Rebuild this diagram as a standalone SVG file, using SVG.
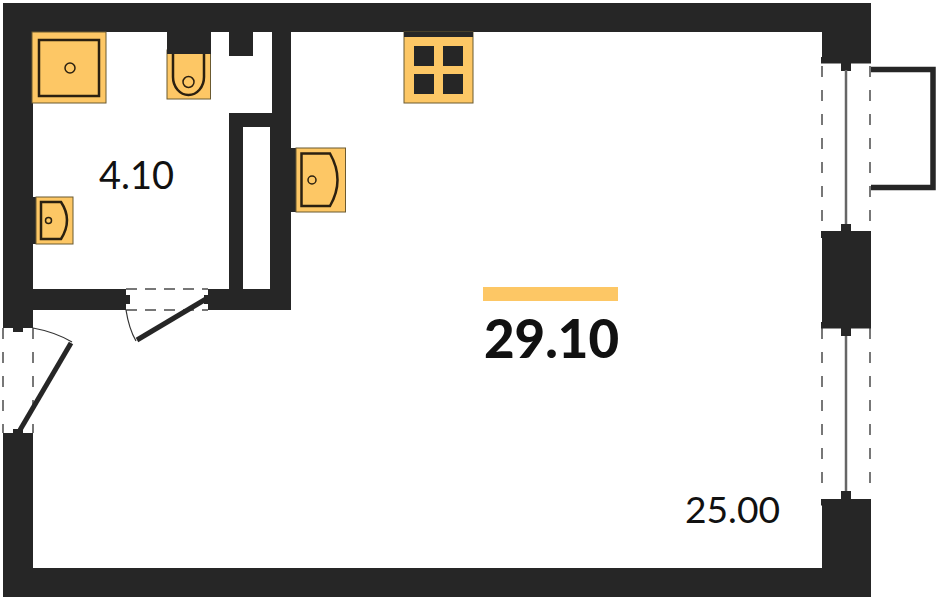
<svg xmlns="http://www.w3.org/2000/svg" width="939" height="600" viewBox="0 0 939 600">
<style>
.w{fill:#262626}
.f{fill:#fdc765;stroke:#6b5a30;stroke-width:1}
.l{fill:none;stroke:#2b2010}
.d{fill:none;stroke:#777;stroke-width:2;stroke-dasharray:11 13}
.g{fill:none;stroke:#666;stroke-width:2.500}
text{font-family:Lato,"Liberation Sans",sans-serif;fill:#111}
</style>
<rect width="939" height="600" fill="#fff"/>
<g id="walls">
<path class="w" d="M3 3H871V57H822V32H33V322H3ZM3 440H33V568H822V505H871V597H3ZM822 238H871V322H822Z"/>
<path class="w" fill-rule="evenodd" d="M272 32H291V310H215V289H229V113H272ZM243 127V289H270V127Z"/>
<rect class="w" x="229" y="32" width="24" height="24"/>
<rect class="w" x="33" y="289" width="86" height="21"/>
</g>
<g id="balcony"><path fill="none" stroke="#262626" stroke-width="5.500" d="M871 69.500H933V187.500H871"/></g>
<g id="window-upper">
<path class="d" d="M822 66V222M870 66V222"/>
<rect class="w" x="821" y="57" width="50" height="6.500"/><rect class="w" x="841" y="63" width="10" height="8"/>
<rect class="w" x="821" y="231" width="50" height="7"/><rect class="w" x="841" y="224" width="10" height="8"/>
<path class="g" d="M846 70V224"/>
</g>
<g id="window-lower">
<path class="d" d="M822 328V495M870 328V495"/>
<rect class="w" x="821" y="322" width="50" height="6.500"/><rect class="w" x="841" y="328" width="10" height="8"/>
<rect class="w" x="821" y="499" width="50" height="6.500"/><rect class="w" x="841" y="491" width="10" height="8"/>
<path class="g" d="M846 336V491"/>
</g>
<g id="door-entrance">
<path class="d" d="M3 328V433M33 328V433"/>
<rect class="w" x="3" y="321" width="30" height="7"/><rect class="w" x="13" y="328" width="10" height="4"/>
<rect class="w" x="3" y="433" width="30" height="7.500"/><rect class="w" x="13" y="429" width="10" height="4"/>
<path d="M33 328Q55 332 72 342" fill="none" stroke="#333" stroke-width="1.200"/>
<path d="M71 343L20 430" fill="none" stroke="#262626" stroke-width="5"/>
</g>
<g id="door-bathroom">
<path d="M126 289H208M126 310H208" fill="none" stroke="#777" stroke-width="2" stroke-dasharray="11 8"/>
<rect class="w" x="119" y="289" width="7" height="21"/><rect class="w" x="126" y="295" width="4" height="9"/>
<rect class="w" x="208" y="289" width="7" height="21"/><rect class="w" x="204" y="295" width="4" height="9"/>
<path d="M126 310Q129 329 136 341" fill="none" stroke="#333" stroke-width="1.200"/>
<path d="M137 340L206 299" fill="none" stroke="#262626" stroke-width="5"/>
</g>
<g id="shower">
<rect class="f" x="32" y="32" width="74" height="71"/>
<rect class="l" x="39" y="40" width="60" height="56" stroke-width="2.500"/>
<circle class="l" cx="70" cy="68" r="5" stroke-width="1.500"/>
</g>
<g id="toilet">
<rect class="f" x="167" y="50" width="43.500" height="49"/>
<rect class="w" x="167" y="31" width="44" height="23"/>
<path class="l" stroke-width="2.500" d="M173 54V77A15.500 18 0 0 0 204 77V54"/>
<circle class="l" cx="188.500" cy="82" r="5.500" stroke-width="1.500"/>
</g>
<g id="sink-bathroom">
<rect class="w" x="33" y="197" width="4" height="47"/>
<rect class="f" x="36" y="197" width="37" height="47"/>
<path class="l" d="M41 202H61Q73 220 61 239H41Z" stroke-width="2.500"/>
<circle class="l" cx="48.500" cy="220.500" r="3" stroke-width="1.500"/>
</g>
<g id="sink-kitchen">
<rect class="w" x="291" y="148" width="6" height="64"/>
<rect class="f" x="296" y="148" width="49.500" height="64"/>
<path class="l" d="M301.500 153.500H330Q345 180 330 206H301.500Z" stroke-width="2.500"/>
<circle class="l" cx="312" cy="180" r="4" stroke-width="1.500"/>
</g>
<g id="stove">
<rect class="f" x="404" y="32" width="69" height="71"/>
<rect class="w" x="404" y="32" width="69" height="5"/>
<rect class="w" x="414" y="46" width="20" height="20"/><rect class="w" x="443" y="46" width="20" height="20"/>
<rect class="w" x="414" y="74" width="20" height="20"/><rect class="w" x="443" y="74" width="20" height="20"/>
</g>
<g id="labels">
<text x="99" y="189" font-size="38" textLength="75" lengthAdjust="spacingAndGlyphs">4.10</text>
<text x="685" y="523" font-size="37" textLength="95" lengthAdjust="spacingAndGlyphs">25.00</text>
<rect x="483" y="287" width="135" height="14" fill="#fdc765"/>
<text x="484" y="358" font-size="53" font-weight="900" textLength="135" lengthAdjust="spacingAndGlyphs">29.10</text>
</g>
</svg>
